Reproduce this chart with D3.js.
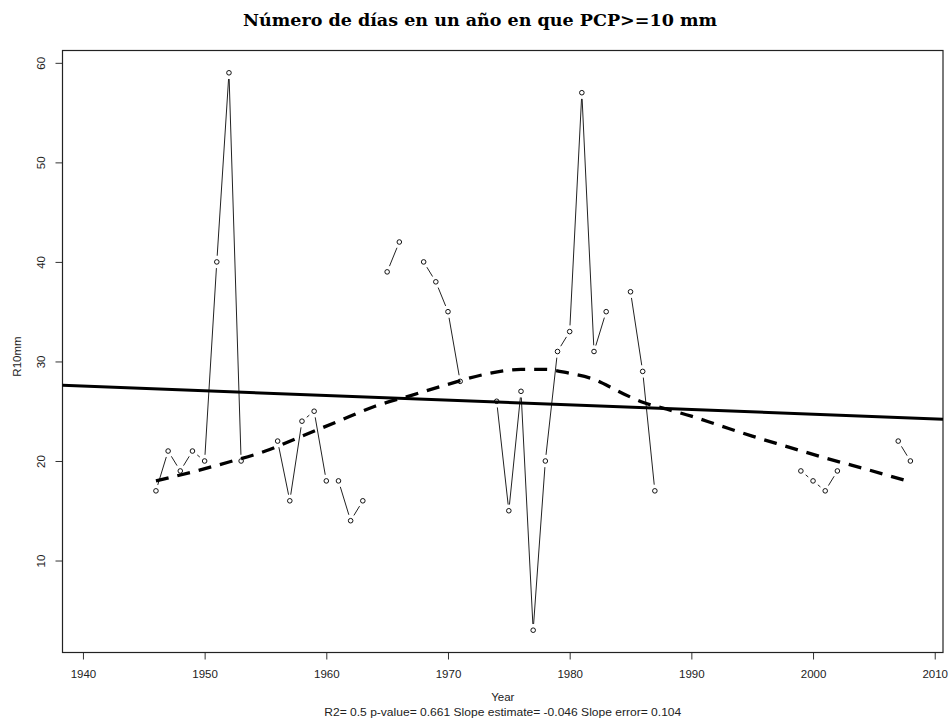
<!DOCTYPE html>
<html>
<head>
<meta charset="utf-8">
<script src="https://cdn.jsdelivr.net/npm/d3@7"></script>
<style>
  body { margin: 0; background: #fff; }
  svg { display: block; }
  .tick-label { font-family: "Liberation Sans", Arial, sans-serif; font-size: 11.5px; fill: #222; }
</style>
</head>
<body>
<svg id="chart"></svg>
<script>
// yearly count of days with PCP >= 10 mm (null = missing year)
var years = [1946, 1947, 1948, 1949, 1950, 1951, 1952, 1953, 1954, 1955,
             1956, 1957, 1958, 1959, 1960, 1961, 1962, 1963, 1964, 1965,
             1966, 1967, 1968, 1969, 1970, 1971, 1972, 1973, 1974, 1975,
             1976, 1977, 1978, 1979, 1980, 1981, 1982, 1983, 1984, 1985,
             1986, 1987, 1988, 1989, 1990, 1991, 1992, 1993, 1994, 1995,
             1996, 1997, 1998, 1999, 2000, 2001, 2002, 2003, 2004, 2005,
             2006, 2007, 2008];
var r10mm = [17, 21, 19, 21, 20, 40, 59, 20, null, null,
             22, 16, 24, 25, 18, 18, 14, 16, null, 39,
             42, null, 40, 38, 35, 28, null, null, 26, 15,
             27, 3, 20, 31, 33, 57, 31, 35, null, 37,
             29, 17, null, null, null, null, null, null, null, null,
             null, null, null, 19, 18, 17, 19, null, null, null,
             null, 22, 20];

// smoothed (loess) curve
var smoothYears  = [1946, 1949, 1952, 1955, 1958, 1961, 1964, 1967, 1970, 1973, 1976, 1978,
                    1980, 1982, 1984, 1986, 1988, 1990, 1992, 1995, 1998, 2001, 2004, 2008];
var smoothValues = [18.0, 18.9, 19.9, 21.0, 22.5, 24.0, 25.5, 26.6, 27.7, 28.7, 29.2, 29.2,
                    28.8, 28.2, 27.0, 25.9, 25.2, 24.5, 23.7, 22.5, 21.4, 20.3, 19.3, 17.9];

// linear trend, ends at the plot edges
var trendYears  = [1938.32, 2010.68];
var trendValues = [27.6, 24.2];

var xTicks = [1940, 1950, 1960, 1970, 1980, 1990, 2000, 2010];
var yTicks = [10, 20, 30, 40, 50, 60];

var titleText = "Número de días en un año en que PCP>=10 mm";
var xTitle = "Year";
var yTitle = "R10mm";
var subText = "R2= 0.5  p-value= 0.661  Slope estimate= -0.046  Slope error= 0.104";

var drawChart = function()
{
    var screen = {width: 950, height: 723};
    var box = {left: 62.5, right: 943, top: 50.5, bottom: 652.5};

    var svg = d3.select("#chart")
        .attr("width", screen.width)
        .attr("height", screen.height);

    var xScale = d3.scaleLinear()
        .domain([1938.32, 2010.68])
        .range([box.left, box.right]);

    var yScale = d3.scaleLinear()
        .domain([0.76, 61.24])
        .range([box.bottom, box.top]);

    // title
    svg.append("text")
        .attr("x", 480)
        .attr("y", 26)
        .attr("text-anchor", "middle")
        .attr("font-family", "'DejaVu Serif', serif")
        .attr("font-weight", "bold")
        .attr("font-size", 16)
        .attr("textLength", 474)
        .attr("lengthAdjust", "spacingAndGlyphs")
        .text(titleText);

    // axes, R-like: ticks outside the box
    var xAxis = d3.axisBottom(xScale)
        .tickValues(xTicks)
        .tickFormat(d3.format("d"))
        .tickSize(7)
        .tickPadding(8);
    var gx = svg.append("g")
        .attr("transform", "translate(0," + box.bottom + ")")
        .call(xAxis);
    gx.select(".domain").remove();
    gx.selectAll("line").attr("stroke", "#333");
    gx.selectAll("text").attr("class", "tick-label").attr("dy", "0.9em");

    var yAxis = d3.axisLeft(yScale)
        .tickValues(yTicks)
        .tickSize(7)
        .tickPadding(0);
    var gy = svg.append("g")
        .attr("transform", "translate(" + box.left + ",0)")
        .call(yAxis);
    gy.select(".domain").remove();
    gy.selectAll("line").attr("stroke", "#333");
    gy.selectAll("text")
        .attr("class", "tick-label")
        .attr("x", 0)
        .attr("dy", 0)
        .attr("text-anchor", "middle")
        .attr("transform", "translate(-18,0) rotate(-90)");

    // plot box
    svg.append("rect")
        .attr("x", box.left)
        .attr("y", box.top)
        .attr("width", box.right - box.left)
        .attr("height", box.bottom - box.top)
        .attr("fill", "none")
        .attr("stroke", "#222")
        .attr("stroke-width", 1.2);

    // axis titles
    svg.append("text")
        .attr("class", "tick-label")
        .attr("x", (box.left + box.right) / 2)
        .attr("y", 701)
        .attr("text-anchor", "middle")
        .text(xTitle);
    svg.append("text")
        .attr("class", "tick-label")
        .attr("x", (box.left + box.right) / 2)
        .attr("y", 716)
        .attr("text-anchor", "middle")
        .attr("textLength", 357)
        .attr("lengthAdjust", "spacingAndGlyphs")
        .text(subText);
    svg.append("text")
        .attr("class", "tick-label")
        .attr("text-anchor", "middle")
        .attr("transform", "translate(21," + ((box.top + box.bottom) / 2 + 5) + ") rotate(-90)")
        .text(yTitle);

    var plot = svg.append("g");

    // observed series: segments with gaps around the points (R type="b")
    var pts = years.map(function(y, i)
    {
        return {year: y, value: r10mm[i]};
    });
    var gap = 6.2;
    var segs = [];
    for (var i = 1; i < pts.length; i++)
    {
        var a = pts[i - 1], b = pts[i];
        if (a.value === null || b.value === null) continue;
        var x1 = xScale(a.year), y1 = yScale(a.value);
        var x2 = xScale(b.year), y2 = yScale(b.value);
        var len = Math.hypot(x2 - x1, y2 - y1);
        if (len <= 2 * gap) continue;
        var ux = (x2 - x1) / len, uy = (y2 - y1) / len;
        segs.push([x1 + ux * gap, y1 + uy * gap, x2 - ux * gap, y2 - uy * gap]);
    }
    plot.selectAll("line.seg")
        .data(segs)
        .enter()
        .append("line")
        .attr("class", "seg")
        .attr("x1", function(s) { return s[0]; })
        .attr("y1", function(s) { return s[1]; })
        .attr("x2", function(s) { return s[2]; })
        .attr("y2", function(s) { return s[3]; })
        .attr("stroke", "#222")
        .attr("stroke-width", 1);

    plot.selectAll("circle")
        .data(pts.filter(function(p) { return p.value !== null; }))
        .enter()
        .append("circle")
        .attr("cx", function(p) { return xScale(p.year); })
        .attr("cy", function(p) { return yScale(p.value); })
        .attr("r", 2.3)
        .attr("fill", "none")
        .attr("stroke", "#111")
        .attr("stroke-width", 1);

    // linear trend
    var line = d3.line()
        .x(function(d) { return xScale(d[0]); })
        .y(function(d) { return yScale(d[1]); });
    plot.append("path")
        .datum(d3.zip(trendYears, trendValues))
        .attr("d", line)
        .attr("fill", "none")
        .attr("stroke", "#000")
        .attr("stroke-width", 3);

    // smoothed curve, dashed
    plot.append("path")
        .datum(d3.zip(smoothYears, smoothValues))
        .attr("d", line.curve(d3.curveMonotoneX))
        .attr("fill", "none")
        .attr("stroke", "#000")
        .attr("stroke-width", 3.3)
        .attr("stroke-dasharray", "13,9");
}

drawChart();
</script>
</body>
</html>
